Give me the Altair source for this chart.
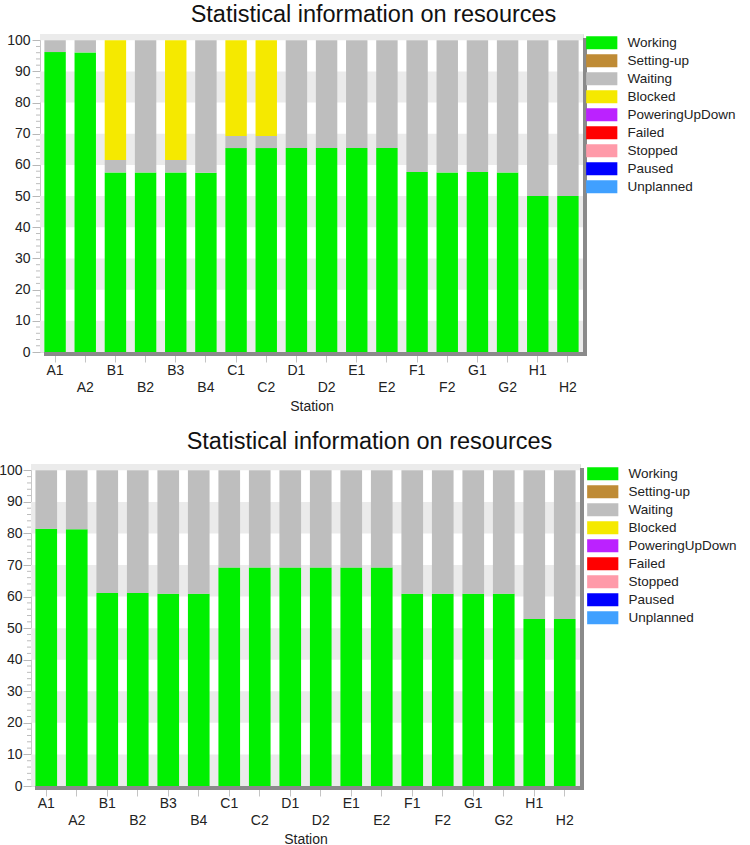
import json
import altair as alt
import pandas as pd

stations = ["A1", "A2", "B1", "B2", "B3", "B4", "C1", "C2", "D1", "D2",
            "E1", "E2", "F1", "F2", "G1", "G2", "H1", "H2"]
states = ["Working", "Setting-up", "Waiting", "Blocked", "PoweringUpDown",
          "Failed", "Stopped", "Paused", "Unplanned"]
state_colors = ["#00f000", "#bf8b35", "#bebebe", "#f5e900", "#bb22ff",
                "#ff0000", "#ff9aa9", "#0000ff", "#40a0ff"]

# upper chart
top_working = [96.2, 96.1, 57.6, 57.6, 57.6, 57.5, 65.4, 65.4, 65.4, 65.4,
               65.4, 65.4, 57.7, 57.6, 57.7, 57.6, 50.0, 50.0]
top_waiting = [3.8, 3.9, 4.0, 42.4, 4.0, 42.5, 3.9, 3.9, 34.6, 34.6,
               34.6, 34.6, 42.3, 42.4, 42.3, 42.4, 50.0, 50.0]
top_blocked = [0, 0, 38.4, 0, 38.4, 0, 30.7, 30.7, 0, 0,
               0, 0, 0, 0, 0, 0, 0, 0]

# lower chart
bot_working = [81.5, 81.3, 61.1, 61.1, 60.9, 60.9, 69.2, 69.2, 69.2, 69.2,
               69.2, 69.2, 60.9, 60.9, 60.9, 60.9, 52.9, 52.9]
bot_waiting = [18.5, 18.7, 38.9, 38.9, 39.1, 39.1, 30.8, 30.8, 30.8, 30.8,
               30.8, 30.8, 39.1, 39.1, 39.1, 39.1, 47.1, 47.1]
bot_blocked = [0] * 18

TITLE = "Statistical information on resources"
FONT = "Liberation Sans"
Y_DOMAIN = [0, 102]


def to_long(working, waiting, blocked):
    rows = []
    for i, s in enumerate(stations):
        for st, vals in (("Working", working), ("Waiting", waiting), ("Blocked", blocked)):
            if vals[i] > 0:
                rows.append({"Station": s, "State": st, "Value": vals[i],
                             "Order": states.index(st)})
    return pd.DataFrame(rows)


label_expr = ("indexof(" + json.dumps(stations) +
              ", datum.value) % 2 == 1 ? ['', datum.label] : datum.label")


def panel(df, w, h, legend_x, legend_y, title_offset, title_dx, ylab_pad, xlab_pad):
    yscale = alt.Scale(domain=Y_DOMAIN, nice=False, zero=True)
    yaxis = alt.Axis(values=list(range(0, 101, 10)), labelFontSize=14,
                     labelFont=FONT, labelColor="#222222", labelPadding=ylab_pad,
                     tickSize=8, tickColor="#b8b8b8", domainColor="#c8c8c8",
                     grid=False, title=None)

    lo = list(range(0, 101, 20))
    bands = pd.DataFrame({"lo": lo, "hi": [min(v + 10, Y_DOMAIN[1]) for v in lo]})
    band_layer = alt.Chart(bands).mark_rect(color="#ebebeb").encode(
        x=alt.value(0), x2=alt.value(w),
        y=alt.Y("lo:Q", scale=yscale, axis=yaxis, title=None), y2="hi:Q")

    minor = pd.DataFrame({"v": [v for v in range(0, 101, 2) if v % 10]})
    minor_layer = alt.Chart(minor).mark_rule(color="#bdbdbd", strokeWidth=1).encode(
        x=alt.value(-4), x2=alt.value(0),
        y=alt.Y("v:Q", scale=yscale, axis=yaxis, title=None))

    bars = alt.Chart(df).mark_bar().encode(
        x=alt.X("Station:N", sort=stations,
                scale=alt.Scale(domain=stations, paddingInner=0.29, paddingOuter=0.145),
                axis=alt.Axis(labelExpr=label_expr, labelAngle=0, labelFontSize=14,
                              labelColor="#222222", labelFont=FONT, labelPadding=xlab_pad,
                              labelLineHeight=17, labelOverlap=False,
                              tickSize=10, tickColor="#c4c4c4", domain=False, grid=False,
                              title="Station", titleFontSize=14, titleFont=FONT,
                              titleFontWeight="normal", titleColor="#222222",
                              titlePadding=5)),
        y=alt.Y("Value:Q", stack="zero", scale=yscale, axis=yaxis, title=None),
        color=alt.Color("State:N",
                        scale=alt.Scale(domain=states, range=state_colors),
                        legend=alt.Legend(title=None, orient="none",
                                          legendX=legend_x, legendY=legend_y,
                                          symbolType="M-2.4,-1H2.4V1H-2.4Z",
                                          symbolSize=169, symbolStrokeWidth=0,
                                          symbolOpacity=1,
                                          labelFontSize=13.5, labelFont=FONT,
                                          labelColor="#222222", labelOffset=19,
                                          rowPadding=3, padding=0)),
        order=alt.Order("Order:Q", sort="ascending"),
    )

    one = pd.DataFrame({"k": [0]})
    shadow_r = alt.Chart(one).mark_rule(color="#8a8a8a", strokeWidth=4).encode(
        x=alt.value(w + 2), y=alt.value(4), y2=alt.value(h + 4))
    shadow_b = alt.Chart(one).mark_rule(color="#8a8a8a", strokeWidth=4).encode(
        x=alt.value(4), x2=alt.value(w + 4), y=alt.value(h + 2))

    return alt.layer(band_layer, minor_layer, bars, shadow_r, shadow_b).properties(
        width=w, height=h,
        title=alt.TitleParams(TITLE, fontSize=23.5, font=FONT, fontWeight="normal",
                              color="#111111", anchor="middle", frame="group",
                              offset=title_offset, dx=title_dx),
    )


top = panel(to_long(top_working, top_waiting, top_blocked), 543, 318,
            564, 2, 7, 62, 2, 1)
bottom = panel(to_long(bot_working, bot_waiting, bot_blocked), 549, 322,
               565, 3, 10, 64, 1, 0)

# invisible 1px spacer that shifts the upper panel a few pixels to the right
spacer = alt.Chart(pd.DataFrame({"k": [0]})).mark_point(opacity=0).encode(
    x=alt.value(0), y=alt.value(0)
).properties(width=1, height=1,
             view=alt.ViewBackground(strokeOpacity=0, fillOpacity=0))

chart = alt.vconcat(alt.hconcat(spacer, top, spacing=-28), alt.hconcat(bottom),
                    spacing=15).resolve_legend(
    color="independent"
).resolve_scale(color="independent").properties(
    padding={"left": -2, "top": 2, "right": 0, "bottom": 0}
).configure_view(stroke="#cfcfcf", strokeWidth=1, fill="#f4f4f4").configure(
    background="white")

chart.save("out.html", embed_options={"renderer": "svg", "actions": False})
